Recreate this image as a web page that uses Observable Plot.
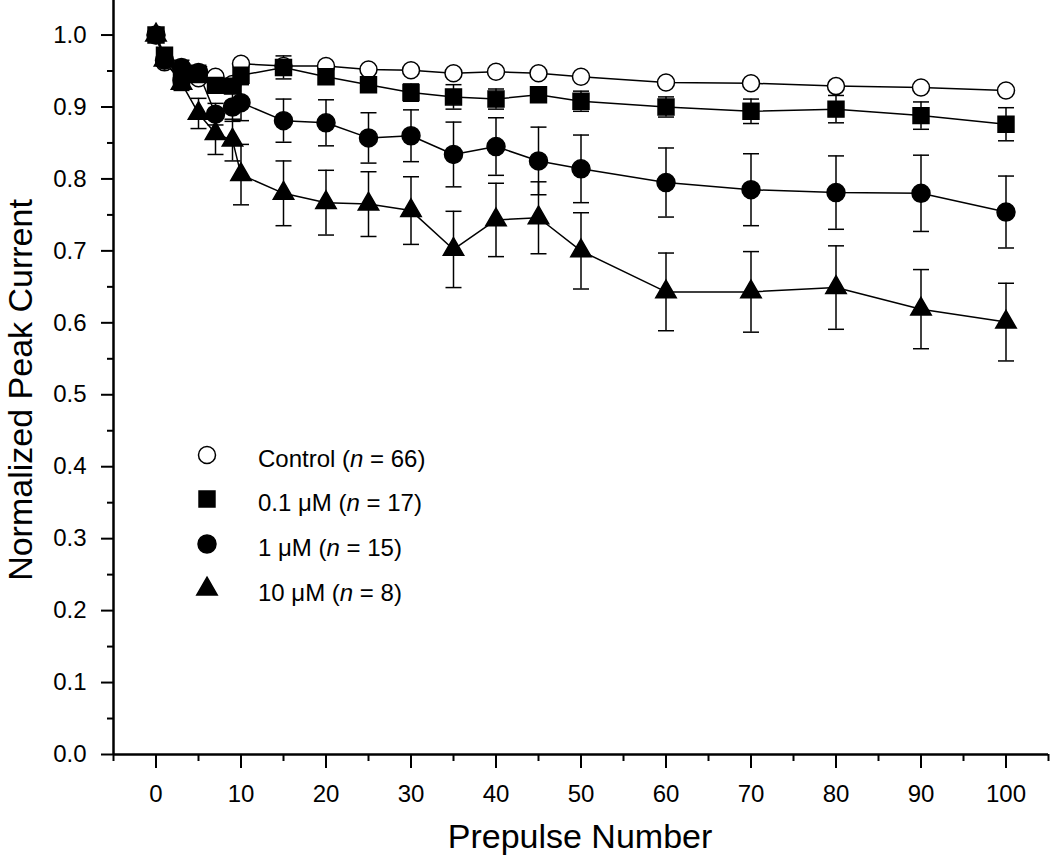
<!DOCTYPE html>
<html><head><meta charset="utf-8">
<script src="https://cdn.jsdelivr.net/npm/d3@7"></script>
<script src="https://cdn.jsdelivr.net/npm/@observablehq/plot@0.6"></script>
<style>
body{margin:0;background:#fff}
#chart{position:relative;width:1050px;height:856px}
</style>
</head><body><div id="chart"></div>
<script>
// ---- data ----
const prepulse = [0, 1, 3, 5, 7, 9, 10, 15, 20, 25, 30, 35, 40, 45, 50, 60, 70, 80, 90, 100];

const control    = [1.0, 0.962, 0.937, 0.940, 0.942, 0.932, 0.960, 0.957, 0.957, 0.952, 0.951, 0.947, 0.949, 0.947, 0.942, 0.934, 0.933, 0.929, 0.927, 0.923];
const controlErr = [0.004, 0.004, 0.004, 0.004, 0.004, 0.004, 0.004, 0.004, 0.004, 0.004, 0.004, 0.004, 0.004, 0.004, 0.004, 0.004, 0.004, 0.004, 0.004, 0.004];

const conc01     = [1.0, 0.972, 0.942, 0.945, 0.930, 0.929, 0.944, 0.955, 0.942, 0.931, 0.920, 0.914, 0.911, 0.917, 0.908, 0.900, 0.894, 0.897, 0.888, 0.876];
const conc01Err  = [0.004, 0.008, 0.008, 0.008, 0.010, 0.010, 0.010, 0.016, 0.010, 0.010, 0.012, 0.017, 0.014, 0.010, 0.014, 0.014, 0.017, 0.019, 0.019, 0.023];

const conc1      = [1.0, 0.965, 0.955, 0.948, 0.890, 0.900, 0.906, 0.881, 0.878, 0.857, 0.860, 0.834, 0.845, 0.825, 0.814, 0.795, 0.785, 0.781, 0.780, 0.754];
const conc1Err   = [0.004, 0.008, 0.010, 0.010, 0.015, 0.020, 0.025, 0.030, 0.032, 0.035, 0.036, 0.045, 0.040, 0.047, 0.047, 0.048, 0.050, 0.051, 0.053, 0.050];

const conc10     = [1.0, 0.965, 0.933, 0.891, 0.863, 0.854, 0.806, 0.780, 0.767, 0.765, 0.756, 0.702, 0.743, 0.746, 0.700, 0.643, 0.643, 0.649, 0.619, 0.601];
const conc10Err  = [0.004, 0.008, 0.010, 0.021, 0.029, 0.029, 0.042, 0.045, 0.045, 0.045, 0.047, 0.053, 0.051, 0.050, 0.053, 0.054, 0.056, 0.058, 0.055, 0.054];

const xTicks = [0, 10, 20, 30, 40, 50, 60, 70, 80, 90, 100];
const xMinorTicks = [-5, 5, 15, 25, 35, 45, 55, 65, 75, 85, 95, 105];
const yTicks = [0, 0.1, 0.2, 0.3, 0.4, 0.5, 0.6, 0.7, 0.8, 0.9, 1.0];
const yMinorTicks = [0.05, 0.15, 0.25, 0.35, 0.45, 0.55, 0.65, 0.75, 0.85, 0.95];

const legendPrefix = ["Control (", "0.1 \u03BCM (", "1 \u03BCM (", "10 \u03BCM ("];
const legendN = ["66", "17", "15", "8"];

// ---- build ----
const series = [
  {values: control, err: controlErr, symbol: "circle", d3sym: d3.symbolCircle, r: 8.5, fill: "white"},
  {values: conc01,  err: conc01Err,  symbol: "square", d3sym: d3.symbolSquare, r: 9.0, fill: "black"},
  {values: conc1,   err: conc1Err,   symbol: "circle", d3sym: d3.symbolCircle, r: 9.0, fill: "black"},
  {values: conc10,  err: conc10Err,  symbol: "triangle", d3sym: d3.symbolTriangle, r: 7.6, fill: "black"}
];
const tables = series.map(s => prepulse.map((x, i) => ({x, y: s.values[i], e: s.err[i]})));

const cap = {draw(ctx) { ctx.moveTo(-8, 0); ctx.lineTo(8, 0); }};
const font = "Helvetica, 'Liberation Sans', Arial, sans-serif";

const errMarks = tables.flatMap(t => [
  Plot.ruleX(t, {x: "x", y1: d => d.y - d.e, y2: d => d.y + d.e, stroke: "black", strokeWidth: 1.5}),
  Plot.dot(t, {x: "x", y: d => d.y + d.e, symbol: cap, stroke: "black", strokeWidth: 1.5, fill: "none"}),
  Plot.dot(t, {x: "x", y: d => d.y - d.e, symbol: cap, stroke: "black", strokeWidth: 1.5, fill: "none"})
]);
const lineMarks = tables.map(t => Plot.line(t, {x: "x", y: "y", stroke: "black", strokeWidth: 1.5}));
const dotMarks = tables.map((t, k) => Plot.dot(t, {x: "x", y: "y", symbol: series[k].symbol, r: series[k].r, fill: series[k].fill, stroke: "black", strokeWidth: 1.5}));

const chart = Plot.plot({
  width: 1050, height: 856,
  marginLeft: 113, marginRight: 2, marginTop: 0, marginBottom: 102,
  style: {fontFamily: font, fontSize: "24px", color: "black", background: "white"},
  x: {domain: [-5, 105]},
  y: {domain: [0, 1.048]},
  marks: [
    Plot.axisX({ticks: xTicks, tickSize: 14, tickPadding: 16, strokeWidth: 2, fontSize: 24, label: null}),
    Plot.axisX({ticks: xMinorTicks, tickSize: 7, strokeWidth: 2, text: null, label: null}),
    Plot.axisY({ticks: yTicks, tickSize: 12, tickPadding: 15, strokeWidth: 2, fontSize: 24, tickFormat: d3.format(".1f"), label: null}),
    Plot.axisY({ticks: yMinorTicks, tickSize: 6, strokeWidth: 2, text: null, label: null}),
    Plot.ruleX([-5], {stroke: "black", strokeWidth: 2.5}),
    Plot.ruleY([0], {stroke: "black", strokeWidth: 2.5}),
    ...errMarks,
    ...lineMarks,
    ...dotMarks
  ]
});
document.getElementById("chart").appendChild(chart);

// ---- titles & legend ----
const svg = d3.select(chart);
svg.append("text").attr("x", 580).attr("y", 848).attr("text-anchor", "middle")
  .attr("font-family", font).attr("font-size", 34).attr("fill", "black").text("Prepulse Number");
svg.append("text").attr("transform", "translate(32,390) rotate(-90)").attr("text-anchor", "middle")
  .attr("font-family", font).attr("font-size", 34).attr("fill", "black").text("Normalized Peak Current");

const legendRows = [455, 499, 544, 589];
const lg = svg.append("g");
series.forEach((s, k) => {
  const cy = legendRows[k];
  lg.append("path").attr("transform", `translate(207,${cy})`)
    .attr("d", d3.symbol(s.d3sym, s.r * s.r * Math.PI)())
    .attr("fill", s.fill).attr("stroke", "black").attr("stroke-width", 1.5);
  const t = lg.append("text").attr("x", 258).attr("y", cy + 12).attr("text-anchor", "start")
    .attr("font-family", font).attr("font-size", 24).attr("fill", "black");
  t.append("tspan").text(legendPrefix[k]);
  t.append("tspan").attr("font-style", "italic").text("n");
  t.append("tspan").text(" = " + legendN[k] + ")");
});
</script>
</body></html>
